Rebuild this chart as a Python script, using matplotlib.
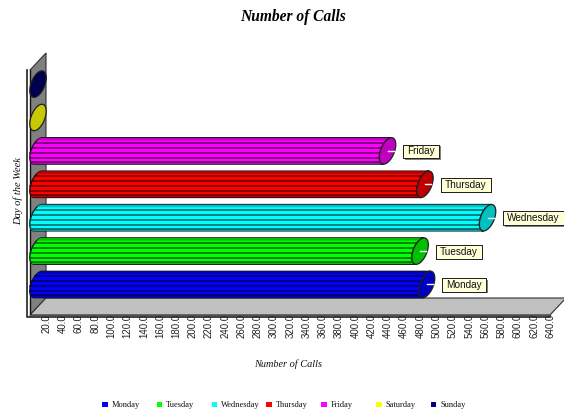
import numpy as np
import matplotlib
matplotlib.use("Agg")
import matplotlib.pyplot as plt
from matplotlib.patches import Rectangle
from matplotlib.path import Path
from matplotlib.transforms import ScaledTranslation
import matplotlib.patheffects as pe

days = ["Monday", "Tuesday", "Wednesday", "Thursday", "Friday", "Saturday", "Sunday"]
calls = [478, 470, 553, 476, 430, 0, 0]
colors = ["#0000ff", "#00ff00", "#00ffff", "#ff0000", "#ff00ff", "#ffff00", "#000080"]
cap_colors = ["#0000c0", "#00c000", "#00c0c0", "#c00000", "#c000c0", "#c8c800", "#000050"]
line_colors = ["#000060", "#006000", "#006060", "#600000", "#600060", "#606000", "#000030"]
tick_values = list(range(20, 660, 20))
tick_labels = [f"{v}.0" for v in tick_values]

W, H = 564, 411
fig = plt.figure(figsize=(W / 100, H / 100), dpi=100, facecolor="white")
SANS = "Liberation Sans"
SERIF = "Liberation Serif"

# axes frame in pixels
L, R, B, T = 28.7, 549.0, 316.0, 70.0
ax = fig.add_axes([L / W, 1 - B / H, (R - L) / W, (B - T) / H])
ROW = 33.4
CY0 = 284.5
ax.set_xlim(0, 640)
ax.set_ylim((CY0 - B) / ROW, (CY0 - T) / ROW)
XS = 640 / (R - L)
YS = 1 / ROW


def dx(v):
    return (v - L) * XS


def dy(v):
    return (CY0 - v) / ROW


def poly(pts, **kw):
    xs = [dx(p[0]) for p in pts]
    ys = [dy(p[1]) for p in pts]
    ax.fill(xs, ys, clip_on=False, **kw)


DEPTH_X, DEPTH_Y = 16, 17
FL, FR = 30, 550
BOT, TOP = 315, 70
FAR = 566
poly([(FL, TOP), (FL + DEPTH_X, TOP - DEPTH_Y), (FL + DEPTH_X, BOT - DEPTH_Y), (FL, BOT)],
     facecolor="#808080", edgecolor="#303030", linewidth=0.8, zorder=1)
poly([(FL, BOT), (FL + DEPTH_X, BOT - DEPTH_Y), (FAR, BOT - DEPTH_Y), (FR, BOT)],
     facecolor="#c0c0c0", edgecolor="#303030", linewidth=0.8, zorder=1)
# white frame strip with dark edges
poly([(27, TOP), (30, TOP), (30, 318), (27, 318)], facecolor="white", edgecolor="none", zorder=1.5)
poly([(27, 315), (FR, 315), (FR, 318), (27, 318)], facecolor="white", edgecolor="none", zorder=1.5)
ax.plot([dx(27), dx(27), dx(FR)], [dy(TOP), dy(317.5), dy(317.5)], color="#202020", lw=1.2,
        clip_on=False, zorder=1.6)
ax.plot([dx(30), dx(30)], [dy(TOP), dy(315)], color="#101010", lw=1.0, clip_on=False, zorder=1.6)
ax.plot([dx(30), dx(FR)], [dy(315), dy(315)], color="#505050", lw=1.0, clip_on=False, zorder=1.6)

# tilted elliptical bar section (pixel sized)
A, Bm, ANG = 14.0, 6.8, np.deg2rad(68)
t = np.linspace(0, 2 * np.pi, 241)
ex = A * np.cos(t) * np.cos(ANG) - Bm * np.sin(t) * np.sin(ANG)
ey = A * np.cos(t) * np.sin(ANG) + Bm * np.sin(t) * np.cos(ANG)
i_top, i_bot = np.argmax(ey), np.argmin(ey)
order = np.roll(np.arange(len(t) - 1), -i_top)
cut = np.where(order == i_bot)[0][0]
left_idx = order[:cut + 1]   # top -> bottom via one side
right_idx = np.r_[order[cut:], order[0]]
lx, ly = ex[left_idx], ey[left_idx]
rx, ry = ex[right_idx], ey[right_idx]
if lx.mean() > rx.mean():
    lx, ly, rx, ry = rx[::-1], ry[::-1], lx[::-1], ly[::-1]
CAP_OFF = 9.3 * XS
STRIPES = [-8.0, -3.0, 2.0, 7.0, 11.0]


def left_edge(h):
    s = np.argsort(ly)
    return np.interp(h, ly[s], lx[s])


def label_box(x0, y0, width, height, mutation_size):
    """Label frame: wider side padding than top and bottom padding (pixels)."""
    hp, vp = 4.2, 1.9
    x1, y1 = x0 + width + hp, y0 + height + vp
    x0, y0 = x0 - hp, y0 - vp
    return Path([(x0, y0), (x1, y0), (x1, y1), (x0, y1), (x0, y0)],
                [Path.MOVETO, Path.LINETO, Path.LINETO, Path.LINETO, Path.CLOSEPOLY])


for i, (day, v) in enumerate(zip(days, calls)):
    cx0 = CAP_OFF
    cx1 = v + CAP_OFF
    if v > 0:
        # cylinder body
        xs = np.r_[cx0 + lx * XS, cx1 + lx[::-1] * XS]
        ys = np.r_[i + ly * YS, i + ly[::-1] * YS]
        ax.fill(xs, ys, facecolor=colors[i], edgecolor="#101010", linewidth=0.9,
                clip_on=False, zorder=3)
        # darker top and bottom bands
        for a, b in [(13.0, 10.5), (-10.5, -13.0)]:
            yy = np.linspace(a, b, 6)
            xx = np.r_[cx0 + left_edge(yy) * XS, cx1 + left_edge(yy[::-1]) * XS]
            ax.fill(xx, i + np.r_[yy, yy[::-1]] * YS, facecolor=cap_colors[i], edgecolor="none",
                    clip_on=False, zorder=3.1)
        for s in STRIPES:
            ax.plot([cx0 + left_edge(-s) * XS, cx1 + left_edge(-s) * XS], [i - s * YS, i - s * YS],
                    color=line_colors[i], lw=1.1, clip_on=False, zorder=3.2)
    # end cap
    ax.fill(cx1 + ex * XS, i + ey * YS, facecolor=cap_colors[i], edgecolor="#202020",
            linewidth=0.9, clip_on=False, zorder=4)
    if v > 0:
        ax.plot([cx1, cx1 + 6 * XS], [i, i], color="white", lw=1.0, clip_on=False, zorder=5)
        txt = ax.annotate(day, xy=(v, i), xytext=(21.0, -0.4), textcoords="offset points",
                          fontsize=7.2, family=SANS, color="#111111", va="center", ha="left",
                          annotation_clip=False, zorder=6,
                          bbox=dict(boxstyle=label_box, facecolor="#ffffd8",
                                    edgecolor="#202020", linewidth=0.7))
        txt.get_bbox_patch().set_path_effects(
            [pe.withSimplePatchShadow(offset=(1, -1), shadow_rgbFace="#808080", alpha=1), pe.Normal()])

# axes
for s in ax.spines.values():
    s.set_visible(False)
ax.patch.set_visible(False)
ax.set_yticks([])
ax.set_xticks(tick_values)
ax.set_xticklabels(tick_labels, rotation=90, fontsize=7, family=SANS, color="#222222")
ax.tick_params(axis="x", length=0, pad=0)
shift = ScaledTranslation(1.5 / 100, 2.0 / 100, fig.dpi_scale_trans)
for lab in ax.get_xticklabels():
    lab.set_transform(lab.get_transform() + shift)

ax.set_xlabel("Number of Calls", fontsize=7.4, family=SERIF, style="italic", color="#111111")
ax.xaxis.set_label_coords((288 - L) / (R - L), (B - 364) / (B - T), transform=ax.transAxes)
ax.xaxis.label.set_va("center")
ax.set_ylabel("Day of the Week", fontsize=7.6, family=SERIF, style="italic", color="#111111")
ax.yaxis.set_label_coords((18 - L) / (R - L), (B - 191) / (B - T), transform=ax.transAxes)
ax.yaxis.label.set_va("center")
fig.suptitle("Number of Calls", x=293 / W, y=1 - 17 / H, va="center", ha="center",
             fontsize=11.2, family=SERIF, style="italic", weight="bold", color="black")

# legend
LEG_X0, LEG_STEP, LEG_Y = 102, 54.8, 404.5
for i, (day, c) in enumerate(zip(days, colors)):
    x = LEG_X0 + i * LEG_STEP
    fig.add_artist(Rectangle((x / W, 1 - (LEG_Y + 2.5) / H), 5.5 / W, 5.5 / H,
                             transform=fig.transFigure, facecolor=c, edgecolor="none"))
    fig.text((x + 9.5) / W, 1 - (LEG_Y + 0.5) / H, day, fontsize=6, family=SERIF,
             va="center", ha="left", color="#111111")

fig.savefig("out.png", dpi=100)
